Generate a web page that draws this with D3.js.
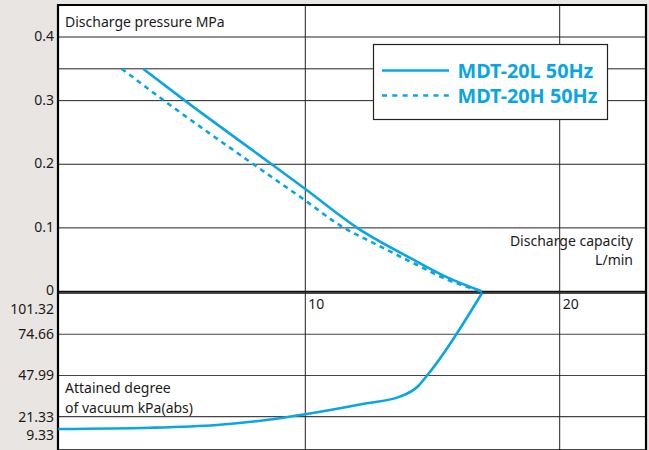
<!DOCTYPE html>
<html>
<head>
<meta charset="utf-8">
<script src="https://cdn.jsdelivr.net/npm/d3@7"></script>
<style>
  body { margin: 0; background: #e9e5e2; }
  svg { display: block; }
  text { font-family: "Noto Sans", sans-serif; fill: #1a1a1a; }
</style>
</head>
<body>
<svg id="chart" width="649" height="450"></svg>
<script>
'use strict'

// discharge curves (L/min vs MPa)
const flowL  = [3.63, 5.27, 8.68, 10.0, 12.04, 14.25, 15.56, 16.95]
const pressL = [0.35, 0.30, 0.20, 0.161, 0.10, 0.050, 0.0225, 0]
const flowH  = [2.78, 4.45, 7.96, 10.0, 11.36, 12.94, 14.38, 15.56, 16.95]
const pressH = [0.35, 0.30, 0.20, 0.143, 0.104, 0.071, 0.042, 0.019, 0]

// vacuum curve (L/min vs kPa abs)
const vacFlow = [0.29, 3.9, 6.52, 8.48, 10.0, 12.41, 13.72, 14.44, 14.70, 16.95]
const vacKpa  = [13.4, 14.2, 16.0, 19.2, 22.9, 30.0, 34.3, 41.2, 46.2, 101.32]

const pressureTicks = [0, 0.1, 0.2, 0.3, 0.4]
const pressureGrid = [0, 0.1, 0.2, 0.3, 0.35, 0.4]
const vacuumTicks = [101.32, 74.66, 47.99, 21.33, 9.33]
const vacuumGrid = [101.32, 74.66, 47.99, 21.33, 0]
const flowTicks = [10, 20]
const seriesNames = ['MDT-20L 50Hz', 'MDT-20H 50Hz']

const blue = '#0aa5e2'
const pLeft = 58, pRight = 646, pTop = 5, pBottom = 452
const fs = '14px'

let svg = d3.select('#chart')

let x = d3.scaleLinear().domain([10, 20]).range([305.3, 559.7])
let yP = d3.scaleLinear().domain([0, 0.4]).range([291.5, 37])
let yV = d3.scaleLinear().domain([0, 101.32]).range([449.7, 293])

svg.append('defs').append('clipPath').attr('id', 'plotclip')
  .append('rect').attr('x', pLeft).attr('y', pTop).attr('width', pRight - pLeft).attr('height', pBottom - pTop)

svg.append('rect')
  .attr('x', pLeft).attr('y', pTop).attr('width', pRight - pLeft).attr('height', pBottom - pTop)
  .attr('fill', '#fff')

let grid = svg.append('g')
grid.append('g').selectAll('line')
  .data(pressureGrid)
  .join('line')
  .attr('x1', pLeft).attr('x2', pRight)
  .attr('y1', d => yP(d)).attr('y2', d => yP(d))
  .attr('stroke', d => d == 0 ? '#111' : '#222')
  .attr('stroke-width', d => d == 0 ? 1.6 : 1)

grid.append('g').selectAll('line')
  .data(vacuumGrid)
  .join('line')
  .attr('x1', pLeft).attr('x2', pRight)
  .attr('y1', d => yV(d)).attr('y2', d => yV(d))
  .attr('stroke', d => d == 101.32 ? '#111' : '#444')
  .attr('stroke-width', d => d == 101.32 ? 1.6 : 1.2)

grid.append('g').selectAll('line')
  .data(flowTicks)
  .join('line')
  .attr('x1', d => x(d)).attr('x2', d => x(d))
  .attr('y1', pTop).attr('y2', pBottom)
  .attr('stroke', '#222')
  .attr('stroke-width', 1)

// frame
svg.append('path')
  .attr('d', `M${pLeft},${pBottom}V${pTop}H${pRight}V${pBottom}`)
  .attr('fill', 'none').attr('stroke', '#000').attr('stroke-width', 2.2)

// y labels
svg.append('g').selectAll('text')
  .data(pressureTicks)
  .join('text')
  .attr('x', 54).attr('y', d => yP(d) - 1)
  .attr('dy', '0.35em')
  .attr('text-anchor', 'end')
  .style('font-size', fs)
  .text(d => d == 0 ? '0' : d3.format('.1f')(d))

svg.append('g').selectAll('text')
  .data(vacuumTicks)
  .join('text')
  .attr('x', 54).attr('y', d => d == 101.32 ? yV(d) + 16 : yV(d))
  .attr('dy', '0.35em')
  .attr('text-anchor', 'end')
  .style('font-size', fs)
  .text(d => d3.format('.2f')(d))

svg.append('g').selectAll('text')
  .data(flowTicks)
  .join('text')
  .attr('x', d => x(d) + 3).attr('y', 308.5)
  .style('font-size', fs)
  .text(d => d)

// axis titles
svg.append('text').attr('x', 65).attr('y', 26.5).style('font-size', fs).text('Discharge pressure MPa')
svg.append('text').attr('x', 633).attr('y', 246).attr('text-anchor', 'end').style('font-size', fs).text('Discharge capacity')
svg.append('text').attr('x', 633).attr('y', 265).attr('text-anchor', 'end').style('font-size', fs).text('L/min')
svg.append('text').attr('x', 65).attr('y', 393).style('font-size', fs).text('Attained degree')
svg.append('text').attr('x', 65).attr('y', 413).style('font-size', fs).text('of vacuum kPa(abs)')

// curves
let plot = svg.append('g').attr('clip-path', 'url(#plotclip)')
let lineP = d3.line().x(d => x(d[0])).y(d => yP(d[1])).curve(d3.curveMonotoneX)
let lineV = d3.line().x(d => x(d[0])).y(d => yV(d[1])).curve(d3.curveMonotoneX)

plot.append('path')
  .datum(d3.zip(flowH, pressH))
  .attr('d', lineP)
  .attr('fill', 'none').attr('stroke', blue).attr('stroke-width', 2.6)
  .attr('stroke-dasharray', '5,4.5')

plot.append('path')
  .datum(d3.zip(flowL, pressL))
  .attr('d', lineP)
  .attr('fill', 'none').attr('stroke', blue).attr('stroke-width', 2.6)

plot.append('path')
  .datum(d3.zip(vacFlow, vacKpa))
  .attr('d', lineV)
  .attr('fill', 'none').attr('stroke', blue).attr('stroke-width', 2.6)

// legend
let lg = svg.append('g')
lg.append('rect')
  .attr('x', 373.5).attr('y', 44.5).attr('width', 234).attr('height', 75)
  .attr('fill', '#fff').attr('stroke', '#222').attr('stroke-width', 1.2)

let items = lg.selectAll('g.item')
  .data(seriesNames)
  .join('g')
  .attr('transform', (d, i) => `translate(0,${i * 25})`)

items.append('line')
  .attr('x1', 382).attr('x2', 449)
  .attr('y1', 70.5).attr('y2', 70.5)
  .attr('stroke', blue).attr('stroke-width', 2.6)
  .attr('stroke-dasharray', (d, i) => i == 1 ? '5,5.3' : null)

items.append('text')
  .attr('x', 457.5).attr('y', 77.5)
  .style('font-size', '19.8px').style('font-weight', 'bold')
  .style('fill', blue)
  .text(d => d)
</script>
</body>
</html>
